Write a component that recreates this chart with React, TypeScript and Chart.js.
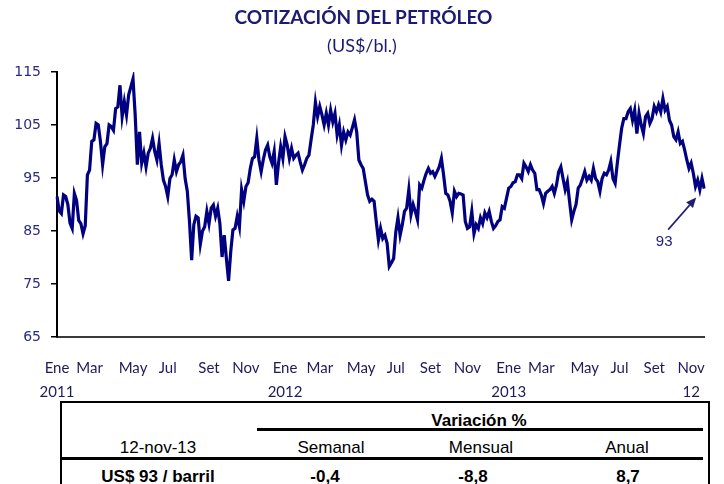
import React, { useEffect, useRef } from "react";
import { Chart, registerables } from "chart.js";

Chart.register(...registerables);

// ---------- data ----------
const START_DATE = "2011-01-04";
const STEP_DAYS = 3.5;

const prices: number[] = [
  91.5, 88.8, 88.3, 91.8, 91.5, 90.0, 86.5, 85.5, 92.1, 90.8,
  87.0, 86.4, 84.5, 86.0, 95.6, 96.5, 101.9, 102.2, 105.3, 105.0,
  101.9, 97.5, 100.9, 101.5, 105.0, 104.7, 104.0, 108.1, 108.4, 112.5,
  106.6, 109.4, 106.9, 110.7, 112.2, 113.7, 106.9, 97.5, 103.7, 97.8,
  99.7, 97.1, 99.7, 100.6, 102.5, 100.0, 98.4, 101.5, 97.5, 94.6,
  93.4, 91.5, 94.9, 95.6, 98.4, 96.2, 97.5, 98.1, 99.3, 94.9,
  92.5, 86.8, 79.5, 86.2, 87.8, 87.5, 82.5, 85.0, 85.8, 88.7,
  86.4, 89.3, 89.9, 87.8, 89.3, 86.4, 80.1, 84.2, 79.8, 75.6,
  81.1, 85.2, 85.5, 87.8, 85.8, 92.8, 90.6, 93.4, 94.1, 96.8,
  98.7, 99.0, 102.5, 98.4, 96.2, 98.5, 100.3, 101.2, 99.0, 97.8,
  100.0, 93.7, 97.8, 100.9, 98.7, 102.8, 101.2, 98.7, 100.6, 98.7,
  99.3, 99.7, 98.0, 96.5, 97.5, 98.7, 99.3, 102.2, 105.0, 109.3,
  106.6, 108.5, 106.9, 105.0, 107.2, 105.0, 107.8, 105.6, 107.2, 103.1,
  105.0, 101.2, 103.7, 102.2, 103.7, 103.1, 104.5, 106.0, 103.7, 98.4,
  97.5, 96.8, 94.3, 91.8, 90.6, 91.0, 90.6, 86.8, 83.3,
  85.5, 83.6, 84.2, 82.7, 78.3, 79.0, 79.8, 84.8, 87.5, 84.2,
  86.2, 88.7, 89.3, 92.8, 88.1, 90.0, 88.7, 87.1, 93.7, 93.1,
  94.6, 95.9, 96.8, 95.9, 96.2, 95.3, 96.2, 97.1, 98.7, 95.6,
  92.1, 91.8, 90.6, 88.4, 92.5, 91.5, 92.1, 92.0, 91.8, 86.8,
  85.5, 85.8, 88.7, 84.5, 86.2, 85.5, 87.5, 86.4, 88.4, 87.5,
  88.7, 86.8, 85.5, 86.0, 86.8, 87.1, 89.6, 89.3, 91.2, 93.1,
  93.4, 94.1, 94.3, 95.6, 95.6, 94.9, 97.8, 97.1, 96.2, 97.5,
  96.5, 95.9, 92.8, 92.8, 91.8, 90.2, 92.1, 92.5, 92.8, 93.4,
  92.1, 93.7, 96.2, 97.1, 94.9, 92.8, 94.3, 90.6, 87.1, 88.7,
  90.0, 93.1, 93.7, 94.9, 96.2, 94.6, 95.3, 94.6, 96.8, 94.9,
  94.3,
  92.5, 94.9, 95.9, 95.6, 96.5, 98.1, 94.9, 94.0, 97.8, 101.2,
  104.4, 106.2, 106.2, 107.5, 108.1, 105.9, 107.8, 103.4, 107.2, 105.0,
  103.4, 106.6, 107.2, 105.3, 106.2, 108.5, 107.5, 108.8, 107.5, 110.0,
  107.8, 108.5, 105.9, 105.0, 102.8, 102.2, 103.7, 101.5, 101.9, 100.3,
  98.4, 96.8, 97.8, 95.9, 93.4, 94.6, 92.8, 94.9, 93.0,
];

const tickDates = [
  "2011-01-04", "2011-02-24", "2011-05-05", "2011-07-01", "2011-09-06", "2011-11-04",
  "2012-01-08", "2012-03-03", "2012-05-07", "2012-07-02", "2012-08-29", "2012-10-26",
  "2013-01-01", "2013-02-24", "2013-05-02", "2013-06-27", "2013-08-23", "2013-10-22",
];
const tickMonths = [
  "Ene", "Mar", "May", "Jul", "Set", "Nov",
  "Ene", "Mar", "May", "Jul", "Set", "Nov",
  "Ene", "Mar", "May", "Jul", "Set", "Nov",
];
const tickYears = [
  "2011", "", "", "", "", "",
  "2012", "", "", "", "", "",
  "2013", "", "", "", "", "12",
];

const Y_MIN = 65;
const Y_MAX = 115;
const Y_STEP = 10;

const titleText = "COTIZACIÓN DEL PETRÓLEO";
const subtitleText = "(US$/bl.)";
const tableDate = "12-nov-13";
const tablePrice = "US$ 93 / barril";
const variationTitle = "Variación %";
const variationHeaders = ["Semanal", "Mensual", "Anual"];
const variationValues = ["-0,4", "-8,8", "8,7"];

// ---------- derived ----------
const DAY = 86400000;
const startMs = Date.parse(START_DATE + "T00:00:00Z");
const dateLabels = prices.map((_, j) =>
  new Date(startMs + Math.round(j * STEP_DAYS) * DAY).toISOString().slice(0, 10)
);
const tickByIndex = new Map<number, string[]>();
tickDates.forEach((d, k) => {
  let idx = Math.round((Date.parse(d + "T00:00:00Z") - startMs) / DAY / STEP_DAYS);
  idx = Math.min(Math.max(idx, 0), prices.length - 1);
  tickByIndex.set(idx, [tickMonths[k], tickYears[k]]);
});
const lastLabel = String(Math.round(prices[prices.length - 1]));

const LINE_COLOR = "#000080";
const NAVY_TEXT = "#1b1b70";
const Y_TEXT = "#2a2a86";
const X_TEXT = "#1c1c5a";

const lastValueArrow = {
  id: "lastValueArrow",
  afterDatasetsDraw(chart: any) {
    const meta = chart.getDatasetMeta(0);
    const pt = meta.data[meta.data.length - 1];
    if (!pt) return;
    const ctx = chart.ctx;
    const tipX = pt.x - 8;
    const tipY = pt.y + 9;
    const tailX = pt.x - 36;
    const tailY = pt.y + 41;
    ctx.save();
    ctx.strokeStyle = "#1f1f78";
    ctx.fillStyle = "#1f1f78";
    ctx.lineWidth = 1.6;
    const ang = Math.atan2(tipY - tailY, tipX - tailX);
    const headLen = 10;
    const headW = 4.5;
    const bx = tipX - headLen * Math.cos(ang);
    const by = tipY - headLen * Math.sin(ang);
    ctx.beginPath();
    ctx.moveTo(tailX, tailY);
    ctx.lineTo(bx, by);
    ctx.stroke();
    ctx.beginPath();
    ctx.moveTo(tipX, tipY);
    ctx.lineTo(bx + headW * Math.sin(ang), by - headW * Math.cos(ang));
    ctx.lineTo(bx - headW * Math.sin(ang), by + headW * Math.cos(ang));
    ctx.closePath();
    ctx.fill();
    ctx.font = "15px 'Liberation Sans', Arial, sans-serif";
    ctx.textAlign = "center";
    ctx.textBaseline = "middle";
    ctx.fillText(lastLabel, pt.x - 40, pt.y + 53);
    ctx.restore();
  },
};

const TABLE_FONT = "'Liberation Sans', Arial, sans-serif";

function Cell(props: { cx: number; cy: number; text: string; bold?: boolean }) {
  return (
    <div
      style={{
        position: "absolute",
        left: props.cx - 150,
        width: 300,
        top: props.cy - 12,
        height: 24,
        lineHeight: "24px",
        textAlign: "center",
        fontFamily: TABLE_FONT,
        fontSize: 17,
        fontWeight: props.bold ? 700 : 400,
        color: "#000",
        whiteSpace: "nowrap",
      }}
    >
      {props.text}
    </div>
  );
}

function HLine(props: { x: number; y: number; w: number; h: number }) {
  return (
    <div
      style={{
        position: "absolute",
        left: props.x,
        top: props.y,
        width: props.w,
        height: props.h,
        background: "#000",
      }}
    />
  );
}

export default function App() {
  const canvasRef = useRef<HTMLCanvasElement>(null);

  useEffect(() => {
    if (!canvasRef.current) return;
    const chart = new Chart(canvasRef.current, {
      type: "line",
      data: {
        labels: dateLabels,
        datasets: [
          {
            data: prices,
            borderColor: LINE_COLOR,
            borderWidth: 3.2,
            pointRadius: 0,
            tension: 0,
            fill: false,
          },
        ],
      },
      options: {
        animation: false,
        responsive: false,
        maintainAspectRatio: false,
        layout: { padding: { left: 0, right: 11, top: 72, bottom: 0 } },
        plugins: {
          legend: { display: false },
          tooltip: { enabled: false },
          title: { display: false },
        },
        scales: {
          x: {
            type: "category",
            grid: { display: false, drawTicks: false },
            border: { display: true, color: "#3a3a3a", width: 2 },
            ticks: {
              autoSkip: false,
              maxRotation: 0,
              minRotation: 0,
              padding: 19,
              color: X_TEXT,
              font: { family: "Lato", size: 15, lineHeight: 1.6 },
              callback: (_v: any, index: number) => {
                const t = tickByIndex.get(index);
                return t ? t : null;
              },
            },
            afterFit: (scale: any) => {
              scale.height = 63;
            },
          },
          y: {
            min: Y_MIN,
            max: Y_MAX,
            grid: {
              display: true,
              drawOnChartArea: false,
              drawTicks: true,
              tickLength: 6,
              color: "#000",
              lineWidth: 1.5,
            },
            border: { display: true, color: "#000", width: 2 },
            ticks: {
              stepSize: Y_STEP,
              padding: 10,
              color: Y_TEXT,
              font: { family: "'DejaVu Sans', Verdana, sans-serif", size: 14 },
            },
            afterFit: (scale: any) => {
              scale.width = 57;
            },
          },
        },
      },
      plugins: [lastValueArrow],
    });
    return () => chart.destroy();
  }, []);

  return (
    <div
      style={{
        position: "absolute",
        left: 0,
        top: 0,
        width: 724,
        height: 484,
        background: "#fff",
        overflow: "hidden",
      }}
    >
      <canvas
        ref={canvasRef}
        width={724}
        height={400}
        style={{ position: "absolute", left: 0, top: 0, width: 724, height: 400 }}
      />
      <div
        style={{
          position: "absolute",
          left: 0,
          width: 727,
          top: 4,
          height: 26,
          lineHeight: "26px",
          textAlign: "center",
          fontFamily: "Lato, sans-serif",
          fontWeight: 700,
          fontSize: 19,
          color: NAVY_TEXT,
        }}
      >
        {titleText}
      </div>
      <div
        style={{
          position: "absolute",
          left: 0,
          width: 724,
          top: 32,
          height: 26,
          lineHeight: "26px",
          textAlign: "center",
          fontFamily: "Lato, sans-serif",
          fontSize: 18,
          color: NAVY_TEXT,
        }}
      >
        {subtitleText}
      </div>

      {/* table frame */}
      <div
        style={{
          position: "absolute",
          left: 60,
          top: 401,
          width: 646,
          height: 100,
          borderTop: "2px solid #000",
          borderLeft: "2px solid #000",
          borderRight: "2px solid #000",
        }}
      />
      <Cell cx={479} cy={421} text={variationTitle} bold />
      <HLine x={257} y={428} w={446} h={3} />
      <Cell cx={158} cy={448} text={tableDate} />
      <Cell cx={331} cy={448} text={variationHeaders[0]} />
      <Cell cx={481} cy={448} text={variationHeaders[1]} />
      <Cell cx={627} cy={448} text={variationHeaders[2]} />
      <HLine x={62} y={457} w={641} h={3} />
      <Cell cx={158} cy={477} text={tablePrice} bold />
      <Cell cx={325} cy={477} text={variationValues[0]} bold />
      <Cell cx={473} cy={477} text={variationValues[1]} bold />
      <Cell cx={628} cy={477} text={variationValues[2]} bold />
    </div>
  );
}
